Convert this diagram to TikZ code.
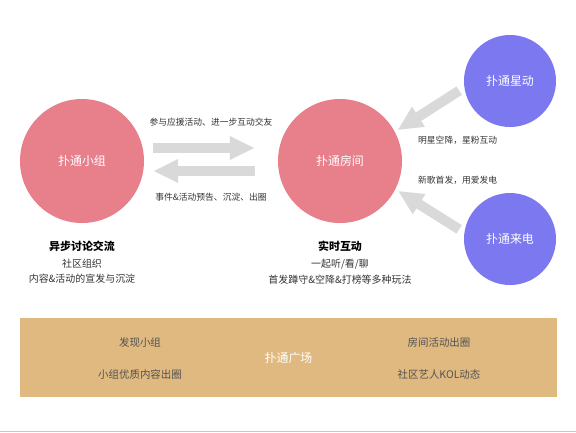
\documentclass[tikz,border=0pt]{standalone}
\usepackage{fontspec}
\setmainfont{Noto Sans CJK SC}
\usetikzlibrary{arrows.meta,positioning}

\definecolor{roompink}{HTML}{E8808C}
\definecolor{starblue}{HTML}{7C78F0}
\definecolor{plazagold}{HTML}{E0B980}
\definecolor{fatgray}{HTML}{D9D9D9}
\definecolor{txtgray}{HTML}{333333}

\begin{document}
\begin{tikzpicture}[
        x=1bp, y=-1bp,
        bigcirc/.style={circle, fill=roompink, minimum size=124bp, inner sep=0pt,
        text=white, font=\fontsize{12}{14}\selectfont},
        smallcirc/.style={circle, fill=starblue, minimum size=92bp, inner sep=0pt,
        text=white, font=\fontsize{12}{14}\selectfont},
        fat/.style={draw=fatgray, line width=10bp, -{Triangle[width=22bp,length=25bp]}},
        lbl/.style={inner sep=0pt, text=txtgray, font=\fontsize{8.8}{10}\selectfont},
        title/.style={inner sep=0pt, text=black, font=\fontsize{11}{13}\selectfont\bfseries},
        sub/.style={inner sep=0pt, text=txtgray, font=\fontsize{10}{12}\selectfont},
        bandtxt/.style={inner sep=0pt, text=txtgray!85, font=\fontsize{10.5}{12}\selectfont}
    ]
        \useasboundingbox (0,0) rectangle (576,432);

% Main circles
        \node[bigcirc] (group) at (82,161) {扑通小组};
        \node[bigcirc] (room) at (340,161) {扑通房间};
        \node[smallcirc] (stars) at (510,81) {扑通星动};
        \node[smallcirc] (call) at (510,239) {扑通来电};

% Arrows between group and room
        \draw[fat, shorten <=9bp, shorten >=23bp] ([yshift=13bp]group.east) --
        node[lbl, above=17bp] {参与应援活动、进一步互动交友} ([yshift=13bp]room.west);
        \draw[fat, shorten <=23bp, shorten >=9bp] ([yshift=-10bp]room.west) --
        node[lbl, below=17bp] {事件\&活动预告、沉淀、出圈} ([yshift=-10bp]group.east);

% Arrows into room
        \draw[fat, shorten <=6bp, shorten >=3bp] (stars.188) -- (room.28);
        \draw[fat, shorten <=6bp, shorten >=3bp] (call.172) -- (room.-27);
        \node[lbl, anchor=west] (starnote) at (418,140) {明星空降，星粉互动};
        \node[lbl, anchor=west] (callnote) at (418,180) {新歌首发，用爱发电};

% Text under the circles
        \node[title, below=18bp of group] (grouptitle) {异步讨论交流};
        \node[sub, below=7bp of grouptitle] (groupsub) {社区组织};
        \node[sub, below=5bp of groupsub] {内容\&活动的宣发与沉淀};
        \node[title, below=18bp of room] (roomtitle) {实时互动};
        \node[sub, below=7bp of roomtitle] (roomsub) {一起听/看/聊};
        \node[sub, below=5bp of roomsub] {首发蹲守\&空降\&打榜等多种玩法};

% Plaza band
        \node[fill=plazagold, minimum width=537bp, minimum height=79bp, inner sep=0pt,
        text=white, font=\fontsize{12}{14}\selectfont] (plaza) at (288.5,357.5) {扑通广场};
        \node[bandtxt] at (140,343) {发现小组};
        \node[bandtxt] at (140,374) {小组优质内容出圈};
        \node[bandtxt] at (439,343) {房间活动出圈};
        \node[bandtxt] at (439,374) {社区艺人KOL动态};

        \draw[gray!45, line width=1.2bp] (0,431.4) -- (576,431.4);

    \end{tikzpicture}
\end{document}
